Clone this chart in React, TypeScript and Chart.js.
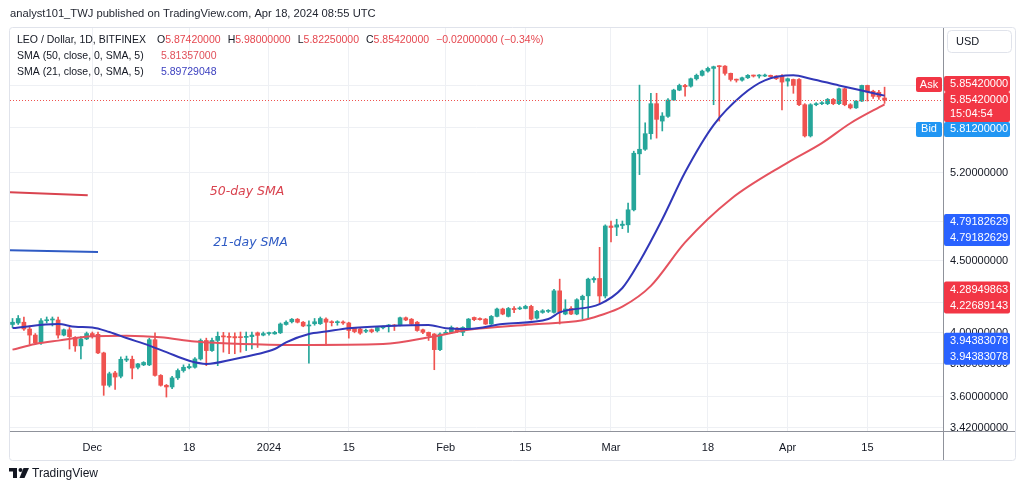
import React, { useEffect, useRef } from 'react';
import { Chart, registerables } from 'chart.js';

Chart.register(...registerables);

// Daily candles, index 0 = 17 Nov 2023 ... index 153 = 18 Apr 2024
const OPEN = [
  4.050, 4.060, 4.065, 4.020, 3.980, 3.930, 4.075, 4.080, 4.080, 3.980,
  4.015, 3.965, 3.910, 3.955, 3.990, 3.985, 3.865, 3.665, 3.740, 3.720,
  3.820, 3.825, 3.775, 3.790, 3.790, 3.950, 3.725, 3.665, 3.655, 3.710,
  3.755, 3.772, 3.775, 3.827, 3.945, 3.880, 3.945, 3.975, 3.972, 3.970,
  3.968, 3.965, 3.970, 3.995, 3.980, 3.990, 3.988, 3.995, 4.050, 4.068,
  4.085, 4.065, 4.040, 4.055, 4.055, 4.086, 4.065, 4.062, 4.065, 4.060,
  4.025, 4.020, 4.005, 4.015, 4.008, 4.028, 4.040, 4.042, 4.045, 4.095,
  4.085, 4.065, 4.015, 3.998, 3.987, 3.886, 3.990, 3.998, 4.025, 3.998,
  4.025, 4.097, 4.090, 4.086, 4.053, 4.104, 4.154, 4.104, 4.158, 4.155,
  4.158, 4.172, 4.092, 4.131, 4.138, 4.131, 4.280, 4.120, 4.158, 4.120,
  4.218, 4.245, 4.358, 4.368, 4.244, 4.761, 4.752, 4.765, 4.770, 4.889,
  5.360, 5.400, 5.540, 5.820, 5.656, 5.700, 5.855, 5.951, 5.997, 5.990,
  6.063, 6.097, 6.140, 6.167, 6.190, 6.190, 6.117, 6.056, 6.049, 6.073,
  6.095, 6.090, 6.090, 6.097, 6.090, 6.090, 6.040, 6.056, 6.056, 5.810,
  5.520, 5.810, 5.820, 5.820, 5.861, 5.820, 5.964, 5.810, 5.780, 5.845,
  5.997, 5.940, 5.930, 5.8742,
];
const HIGH = [
  4.090, 4.110, 4.100, 4.040, 3.990, 4.090, 4.100, 4.100, 4.100, 4.020,
  4.030, 3.970, 3.970, 4.000, 4.000, 4.000, 3.870, 3.745, 3.750, 3.840,
  3.845, 3.845, 3.800, 3.810, 3.960, 3.995, 3.730, 3.670, 3.720, 3.765,
  3.790, 3.795, 3.835, 3.955, 3.960, 3.960, 4.000, 3.998, 3.995, 3.995,
  4.000, 4.000, 4.000, 4.000, 4.000, 4.000, 4.005, 4.060, 4.075, 4.090,
  4.090, 4.070, 4.075, 4.090, 4.100, 4.095, 4.075, 4.075, 4.075, 4.065,
  4.030, 4.025, 4.020, 4.020, 4.035, 4.040, 4.050, 4.050, 4.100, 4.100,
  4.090, 4.070, 4.020, 4.000, 3.990, 3.995, 4.010, 4.040, 4.030, 4.035,
  4.090, 4.100, 4.095, 4.090, 4.110, 4.160, 4.160, 4.165, 4.170, 4.170,
  4.180, 4.180, 4.145, 4.150, 4.150, 4.290, 4.363, 4.218, 4.170, 4.225,
  4.250, 4.370, 4.380, 4.597, 4.770, 4.800, 4.814, 4.800, 4.944, 5.383,
  6.000, 5.640, 5.920, 5.920, 5.735, 5.870, 5.960, 6.010, 6.007, 6.070,
  6.110, 6.150, 6.180, 6.190, 6.195, 6.195, 6.120, 6.060, 6.080, 6.105,
  6.100, 6.105, 6.110, 6.100, 6.095, 6.105, 6.070, 6.060, 6.065, 5.820,
  5.820, 5.830, 5.840, 5.870, 5.870, 5.970, 5.970, 5.820, 5.850, 6.000,
  6.000, 5.950, 5.950, 5.980,
];
const LOW = [
  4.030, 4.050, 4.010, 3.920, 3.920, 3.920, 4.060, 4.040, 3.960, 3.975,
  3.890, 3.875, 3.827, 3.950, 3.960, 3.860, 3.605, 3.655, 3.640, 3.710,
  3.810, 3.704, 3.765, 3.785, 3.785, 3.720, 3.660, 3.595, 3.645, 3.700,
  3.745, 3.765, 3.770, 3.820, 3.785, 3.875, 3.785, 3.870, 3.860, 3.860,
  3.870, 3.880, 3.890, 3.900, 3.975, 3.980, 3.985, 3.990, 4.045, 4.060,
  4.060, 4.035, 3.800, 4.045, 4.050, 3.920, 4.040, 4.045, 4.050, 3.960,
  3.995, 3.985, 3.995, 3.995, 4.000, 4.020, 4.000, 4.010, 4.040, 4.075,
  4.050, 4.005, 3.990, 3.945, 3.760, 3.880, 3.985, 3.990, 3.995, 3.976,
  4.020, 4.075, 4.078, 4.050, 4.050, 4.100, 4.115, 4.100, 4.130, 4.150,
  4.155, 4.080, 4.085, 4.125, 4.130, 4.125, 4.053, 4.115, 4.115, 4.115,
  4.086, 4.086, 4.340, 4.190, 4.230, 4.637, 4.686, 4.740, 4.710, 4.880,
  5.180, 5.390, 5.490, 5.500, 5.565, 5.690, 5.850, 5.945, 5.893, 5.980,
  6.050, 6.090, 6.130, 5.810, 5.656, 6.100, 6.040, 6.030, 6.040, 6.065,
  6.080, 6.070, 6.085, 6.080, 6.055, 5.760, 5.990, 5.920, 5.800, 5.510,
  5.510, 5.800, 5.810, 5.810, 5.810, 5.810, 5.800, 5.770, 5.775, 5.840,
  5.845, 5.870, 5.860, 5.8225,
];
const CLOSE = [
  4.065, 4.090, 4.020, 3.980, 3.930, 4.075, 4.080, 4.082, 3.980, 4.015,
  3.970, 3.910, 3.955, 3.990, 3.975, 3.865, 3.665, 3.735, 3.715, 3.825,
  3.827, 3.770, 3.796, 3.805, 3.950, 3.725, 3.665, 3.655, 3.710, 3.755,
  3.775, 3.780, 3.827, 3.945, 3.880, 3.945, 3.972, 3.968, 3.965, 3.962,
  3.963, 3.972, 3.980, 3.978, 3.990, 3.992, 3.998, 4.053, 4.065, 4.085,
  4.065, 4.040, 4.045, 4.068, 4.090, 4.065, 4.062, 4.065, 4.060, 4.010,
  4.003, 3.993, 4.010, 4.003, 4.030, 4.032, 4.042, 4.040, 4.095, 4.080,
  4.053, 4.010, 3.998, 3.976, 3.886, 3.987, 3.998, 4.030, 4.003, 4.030,
  4.086, 4.082, 4.082, 4.053, 4.104, 4.154, 4.120, 4.158, 4.150, 4.160,
  4.172, 4.086, 4.138, 4.142, 4.140, 4.280, 4.131, 4.154, 4.120, 4.218,
  4.242, 4.363, 4.368, 4.244, 4.761, 4.749, 4.770, 4.775, 4.889, 5.365,
  5.400, 5.540, 5.820, 5.672, 5.703, 5.855, 5.951, 5.997, 5.984, 6.063,
  6.097, 6.140, 6.167, 6.184, 6.184, 6.117, 6.056, 6.049, 6.073, 6.097,
  6.090, 6.097, 6.100, 6.084, 6.063, 6.030, 6.063, 5.997, 5.810, 5.520,
  5.810, 5.820, 5.826, 5.861, 5.820, 5.964, 5.810, 5.780, 5.845, 5.997,
  5.932, 5.890, 5.885, 5.8542,
];

// Moving averages read at selected days
const SMA21_IDX = [0, 8, 11, 14, 17, 20, 24, 27, 31, 34, 39, 43, 46, 48, 52, 55, 59, 66, 73, 76, 80, 86, 94, 96, 103, 107, 110, 114, 118, 123, 128, 132, 137, 140, 145, 149, 153];
const SMA21_VAL = [4.026, 4.053, 4.035, 4.030, 4.000, 3.961, 3.912, 3.870, 3.816, 3.796, 3.827, 3.858, 3.890, 3.933, 3.987, 4.003, 4.025, 4.040, 4.047, 4.025, 4.020, 4.053, 4.086, 4.131, 4.188, 4.300, 4.490, 4.814, 5.200, 5.619, 5.901, 6.047, 6.097, 6.064, 5.997, 5.947, 5.89729048];
const SMA50_IDX = [0, 4, 8, 14, 20, 26, 32, 36, 45, 50, 65, 74, 80, 91, 100, 103, 107, 112, 118, 126, 136, 142, 147, 153];
const SMA50_VAL = [3.886, 3.922, 3.944, 3.972, 3.976, 3.966, 3.938, 3.929, 3.918, 3.916, 3.922, 3.972, 4.015, 4.050, 4.078, 4.110, 4.170, 4.315, 4.634, 4.975, 5.283, 5.455, 5.636, 5.81357];

// Axis ticks
const X_TICK_IDX = [14, 31, 45, 59, 76, 90, 105, 122, 136, 150];
const X_TICK_LABELS = ['Dec', '18', '2024', '15', 'Feb', '15', 'Mar', '18', 'Apr', '15'];
const Y_TICKS = [3.42, 3.6, 3.8, 4.0, 4.2, 4.5, 4.8, 5.2, 5.6, 6.0];

// Header / legend texts
const HEADER = 'analyst101_TWJ published on TradingView.com, Apr 18, 2024 08:55 UTC';
const SYMBOL_TITLE = 'LEO / Dollar, 1D, BITFINEX';
const OHLC_KEYS = ['O', 'H', 'L', 'C'];
const OHLC_LAST = [5.8742, 5.98, 5.8225, 5.8542];
const CHANGE_TEXT = '\u22120.02000000 (\u22120.34%)';
const SMA_LABELS = ['SMA (50, close, 0, SMA, 5)', 'SMA (21, close, 0, SMA, 5)'];
const SMA_LAST = [5.81357, 5.89729048];

// Price-axis tags
const LAST_PRICE = 5.8542;
const ASK_PRICE = 5.8542;
const BID_PRICE = 5.812;
const COUNTDOWN = '15:04:54';
const TAG_VALUES = [4.79182629, 4.28949863, 3.94383078];
const TAG_LINES = [['4.79182629', '4.79182629'], ['4.28949863', '4.22689143'], ['3.94383078', '3.94383078']];
const TAG_COLORS = ['#2962ff', '#f23645', '#2962ff'];

// Hand-drawn notes
const NOTE50_X = [-0.44, 13.2];
const NOTE50_Y = [5.032, 5.007];
const NOTE21_X = [-0.44, 15.0];
const NOTE21_Y = [4.574, 4.562];
const NOTE_TEXT = ['50-day SMA', '21-day SMA'];
const NOTE_TEXT_X = [34.6, 35.2];
const NOTE_TEXT_Y = [5.04, 4.629];

const GREEN = '#26a69a';
const RED = '#ef5350';
const DARK = '#131722';
const GRID = '#eef0f4';
const SANS = '"Liberation Sans", Arial, sans-serif';

function roundRect(ctx: CanvasRenderingContext2D, x: number, y: number, w: number, h: number, r: number) {
  ctx.beginPath();
  ctx.moveTo(x + r, y);
  ctx.lineTo(x + w - r, y);
  ctx.quadraticCurveTo(x + w, y, x + w, y + r);
  ctx.lineTo(x + w, y + h - r);
  ctx.quadraticCurveTo(x + w, y + h, x + w - r, y + h);
  ctx.lineTo(x + r, y + h);
  ctx.quadraticCurveTo(x, y + h, x, y + h - r);
  ctx.lineTo(x, y + r);
  ctx.quadraticCurveTo(x, y, x + r, y);
  ctx.closePath();
}

export default function App() {
  const ref = useRef<HTMLCanvasElement>(null);

  useEffect(() => {
    const canvas = ref.current;
    if (!canvas) return;
    const colors = OPEN.map((o, i) => (CLOSE[i] >= o ? GREEN : RED));
    const bodies = OPEN.map((o, i) => ({ x: i, y: [o, CLOSE[i]] }));
    const wicks = LOW.map((l, i) => ({ x: i, y: [l, HIGH[i]] }));

    const deco = {
      id: 'deco',
      beforeDraw(chart: any) {
        const ctx = chart.ctx;
        ctx.save();
        ctx.fillStyle = '#ffffff';
        ctx.fillRect(0, 0, chart.width, chart.height);
        ctx.restore();
      },
      afterDatasetsDraw(chart: any) {
        const ctx: CanvasRenderingContext2D = chart.ctx;
        const a = chart.chartArea;
        const xs = chart.scales.x;
        const ys = chart.scales.y;
        ctx.save();
        ctx.beginPath();
        ctx.rect(a.left, a.top, a.right - a.left, a.bottom - a.top);
        ctx.clip();
        // current price dotted line
        const py = Math.round(ys.getPixelForValue(LAST_PRICE)) + 0.5;
        ctx.strokeStyle = RED;
        ctx.lineWidth = 1;
        ctx.setLineDash([1, 2]);
        ctx.beginPath();
        ctx.moveTo(a.left, py);
        ctx.lineTo(a.right, py);
        ctx.stroke();
        ctx.setLineDash([]);
        // note lines
        ctx.lineWidth = 2;
        ctx.strokeStyle = '#d9434f';
        ctx.beginPath();
        ctx.moveTo(xs.getPixelForValue(NOTE50_X[0]), ys.getPixelForValue(NOTE50_Y[0]));
        ctx.lineTo(xs.getPixelForValue(NOTE50_X[1]), ys.getPixelForValue(NOTE50_Y[1]));
        ctx.stroke();
        ctx.strokeStyle = '#2f5bc4';
        ctx.beginPath();
        ctx.moveTo(xs.getPixelForValue(NOTE21_X[0]), ys.getPixelForValue(NOTE21_Y[0]));
        ctx.lineTo(xs.getPixelForValue(NOTE21_X[1]), ys.getPixelForValue(NOTE21_Y[1]));
        ctx.stroke();
        ctx.font = 'italic 12.5px "DejaVu Sans", sans-serif';
        ctx.textBaseline = 'middle';
        ctx.textAlign = 'left';
        ctx.fillStyle = '#d9434f';
        ctx.fillText(NOTE_TEXT[0], xs.getPixelForValue(NOTE_TEXT_X[0]), ys.getPixelForValue(NOTE_TEXT_Y[0]));
        ctx.fillStyle = '#2f5bc4';
        ctx.fillText(NOTE_TEXT[1], xs.getPixelForValue(NOTE_TEXT_X[1]), ys.getPixelForValue(NOTE_TEXT_Y[1]));
        ctx.restore();
      },
      afterDraw(chart: any) {
        const ctx: CanvasRenderingContext2D = chart.ctx;
        const a = chart.chartArea;
        const ys = chart.scales.y;
        ctx.save();
        ctx.textBaseline = 'middle';
        ctx.textAlign = 'left';
        // price-axis tick labels
        ctx.font = '11px ' + SANS;
        ctx.fillStyle = DARK;
        for (const v of Y_TICKS) {
          ctx.fillText(v.toFixed(8), a.right + 7, ys.getPixelForValue(v) + 1);
        }
        // blank bottom of price column
        ctx.fillStyle = '#ffffff';
        ctx.fillRect(a.right + 1, a.bottom + 1, 72, 28);
        // frame
        ctx.strokeStyle = '#e0e3eb';
        ctx.lineWidth = 1;
        roundRect(ctx, 9.5, 27.5, 1006, 433, 3);
        ctx.stroke();
        // axis separators
        ctx.strokeStyle = '#8f929b';
        ctx.beginPath();
        ctx.moveTo(a.right + 0.5, 28);
        ctx.lineTo(a.right + 0.5, 460);
        ctx.moveTo(10, a.bottom + 0.5);
        ctx.lineTo(1015, a.bottom + 0.5);
        ctx.stroke();

        // header
        ctx.fillStyle = '#1e222d';
        ctx.font = '11.2px ' + SANS;
        ctx.fillText(HEADER, 10, 14);

        // legend
        ctx.font = '10.5px ' + SANS;
        ctx.fillStyle = DARK;
        ctx.fillText(SYMBOL_TITLE, 17, 40);
        let lx = 157;
        for (let k = 0; k < OHLC_KEYS.length; k++) {
          ctx.fillStyle = DARK;
          ctx.fillText(OHLC_KEYS[k], lx, 40);
          lx += ctx.measureText(OHLC_KEYS[k]).width;
          const v = OHLC_LAST[k].toFixed(8);
          ctx.fillStyle = '#e5474f';
          ctx.fillText(v, lx, 40);
          lx += ctx.measureText(v).width + 7;
        }
        ctx.fillText(CHANGE_TEXT, lx, 40);
        ctx.fillStyle = DARK;
        ctx.fillText(SMA_LABELS[0], 17, 56);
        ctx.fillText(SMA_LABELS[1], 17, 72);
        ctx.fillStyle = '#e0505a';
        ctx.fillText(SMA_LAST[0].toFixed(8), 161, 56);
        ctx.fillStyle = '#3b3fbf';
        ctx.fillText(SMA_LAST[1].toFixed(8), 161, 72);

        // price tags
        ctx.font = '11px ' + SANS;
        const tagX = a.right + 1;
        const tagW = 66;
        const lastY = ys.getPixelForValue(LAST_PRICE);
        // ask
        ctx.fillStyle = '#f23645';
        roundRect(ctx, tagX, lastY - 24, tagW, 16, 2);
        ctx.fill();
        roundRect(ctx, a.right - 27, lastY - 23, 26, 15, 2);
        ctx.fill();
        // last price
        roundRect(ctx, tagX, lastY - 8, tagW, 30, 2);
        ctx.fill();
        ctx.fillStyle = '#ffffff';
        ctx.fillText(ASK_PRICE.toFixed(8), tagX + 6, lastY - 16);
        ctx.fillText(LAST_PRICE.toFixed(8), tagX + 6, lastY);
        ctx.fillText(COUNTDOWN, tagX + 6, lastY + 14);
        ctx.textAlign = 'center';
        ctx.fillText('Ask', a.right - 14, lastY - 15.5);
        ctx.textAlign = 'left';
        // bid
        const bidY = lastY + 29;
        ctx.fillStyle = '#2196f3';
        roundRect(ctx, tagX, bidY - 7, tagW, 15, 2);
        ctx.fill();
        roundRect(ctx, a.right - 27, bidY - 7, 26, 15, 2);
        ctx.fill();
        ctx.fillStyle = '#ffffff';
        ctx.fillText(BID_PRICE.toFixed(8), tagX + 6, bidY);
        ctx.textAlign = 'center';
        ctx.fillText('Bid', a.right - 14, bidY);
        ctx.textAlign = 'left';
        // indicator tags
        for (let t = 0; t < TAG_VALUES.length; t++) {
          const y0 = ys.getPixelForValue(TAG_VALUES[t]);
          const lines = TAG_LINES[t];
          ctx.fillStyle = TAG_COLORS[t];
          roundRect(ctx, tagX, y0 - 8, tagW, 16 * lines.length, 2);
          ctx.fill();
          ctx.fillStyle = '#ffffff';
          lines.forEach((s, j) => ctx.fillText(s, tagX + 6, y0 + j * 16));
        }

        // USD box
        ctx.fillStyle = '#ffffff';
        ctx.strokeStyle = '#e0e3eb';
        roundRect(ctx, 947.5, 30.5, 64, 22, 4);
        ctx.fill();
        ctx.stroke();
        ctx.fillStyle = DARK;
        ctx.font = '11px ' + SANS;
        ctx.fillText('USD', 956, 42);

        // footer logo
        ctx.fillStyle = '#131722';
        ctx.fillRect(9, 468, 8, 3.5);
        ctx.fillRect(13, 468, 4, 10);
        ctx.beginPath();
        ctx.arc(20.5, 470, 2, 0, Math.PI * 2);
        ctx.fill();
        ctx.beginPath();
        ctx.moveTo(23.5, 468);
        ctx.lineTo(29, 468);
        ctx.lineTo(24.5, 478);
        ctx.lineTo(19.5, 478);
        ctx.closePath();
        ctx.fill();
        ctx.font = '12px ' + SANS;
        ctx.fillText('TradingView', 32, 474);
        ctx.restore();
      },
    };

    const chart = new Chart(canvas, {
      type: 'bar',
      data: {
        datasets: [
          {
            type: 'line',
            data: SMA21_IDX.map((x, k) => ({ x, y: SMA21_VAL[k] })),
            borderColor: '#3137b8',
            borderWidth: 2,
            pointRadius: 0,
            cubicInterpolationMode: 'monotone',
            order: 0,
          } as any,
          {
            type: 'line',
            data: SMA50_IDX.map((x, k) => ({ x, y: SMA50_VAL[k] })),
            borderColor: '#e5525e',
            borderWidth: 2,
            pointRadius: 0,
            cubicInterpolationMode: 'monotone',
            order: 1,
          } as any,
          {
            type: 'bar',
            data: bodies,
            backgroundColor: colors,
            barThickness: 4,
            minBarLength: 1,
            grouped: false,
            order: 2,
          } as any,
          {
            type: 'bar',
            data: wicks,
            backgroundColor: colors,
            barThickness: 1,
            grouped: false,
            order: 3,
          } as any,
        ],
      },
      options: {
        responsive: false,
        animation: false,
        devicePixelRatio: 1,
        layout: { padding: { left: 10, right: 9, top: 28, bottom: 31 } },
        plugins: { legend: { display: false }, tooltip: { enabled: false } },
        scales: {
          x: {
            type: 'linear',
            min: -0.44,
            max: 163.25,
            offset: false,
            afterBuildTicks: (s: any) => {
              s.ticks = X_TICK_IDX.map((v) => ({ value: v }));
            },
            afterFit: (s: any) => {
              s.height = 29;
            },
            ticks: {
              autoSkip: false,
              maxRotation: 0,
              padding: 10,
              color: DARK,
              font: { family: SANS, size: 11 },
              callback: (_v: any, i: number) => X_TICK_LABELS[i],
            },
            grid: { color: GRID, drawTicks: false, offset: false },
            border: { display: false },
          },
          y: {
            type: 'logarithmic',
            position: 'right',
            min: 3.42,
            max: 6.59,
            afterBuildTicks: (s: any) => {
              s.ticks = Y_TICKS.map((v) => ({ value: v }));
            },
            afterFit: (s: any) => {
              s.width = 72;
            },
            ticks: { display: false },
            grid: { color: GRID, drawTicks: false },
            border: { display: false },
          },
        },
      } as any,
      plugins: [deco as any],
    });
    return () => chart.destroy();
  }, []);

  return (
    <div style={{ position: 'fixed', left: 0, top: 0, width: 1024, height: 491, background: '#ffffff' }}>
      <canvas ref={ref} width={1024} height={491} style={{ display: 'block', width: 1024, height: 491 }} />
    </div>
  );
}
